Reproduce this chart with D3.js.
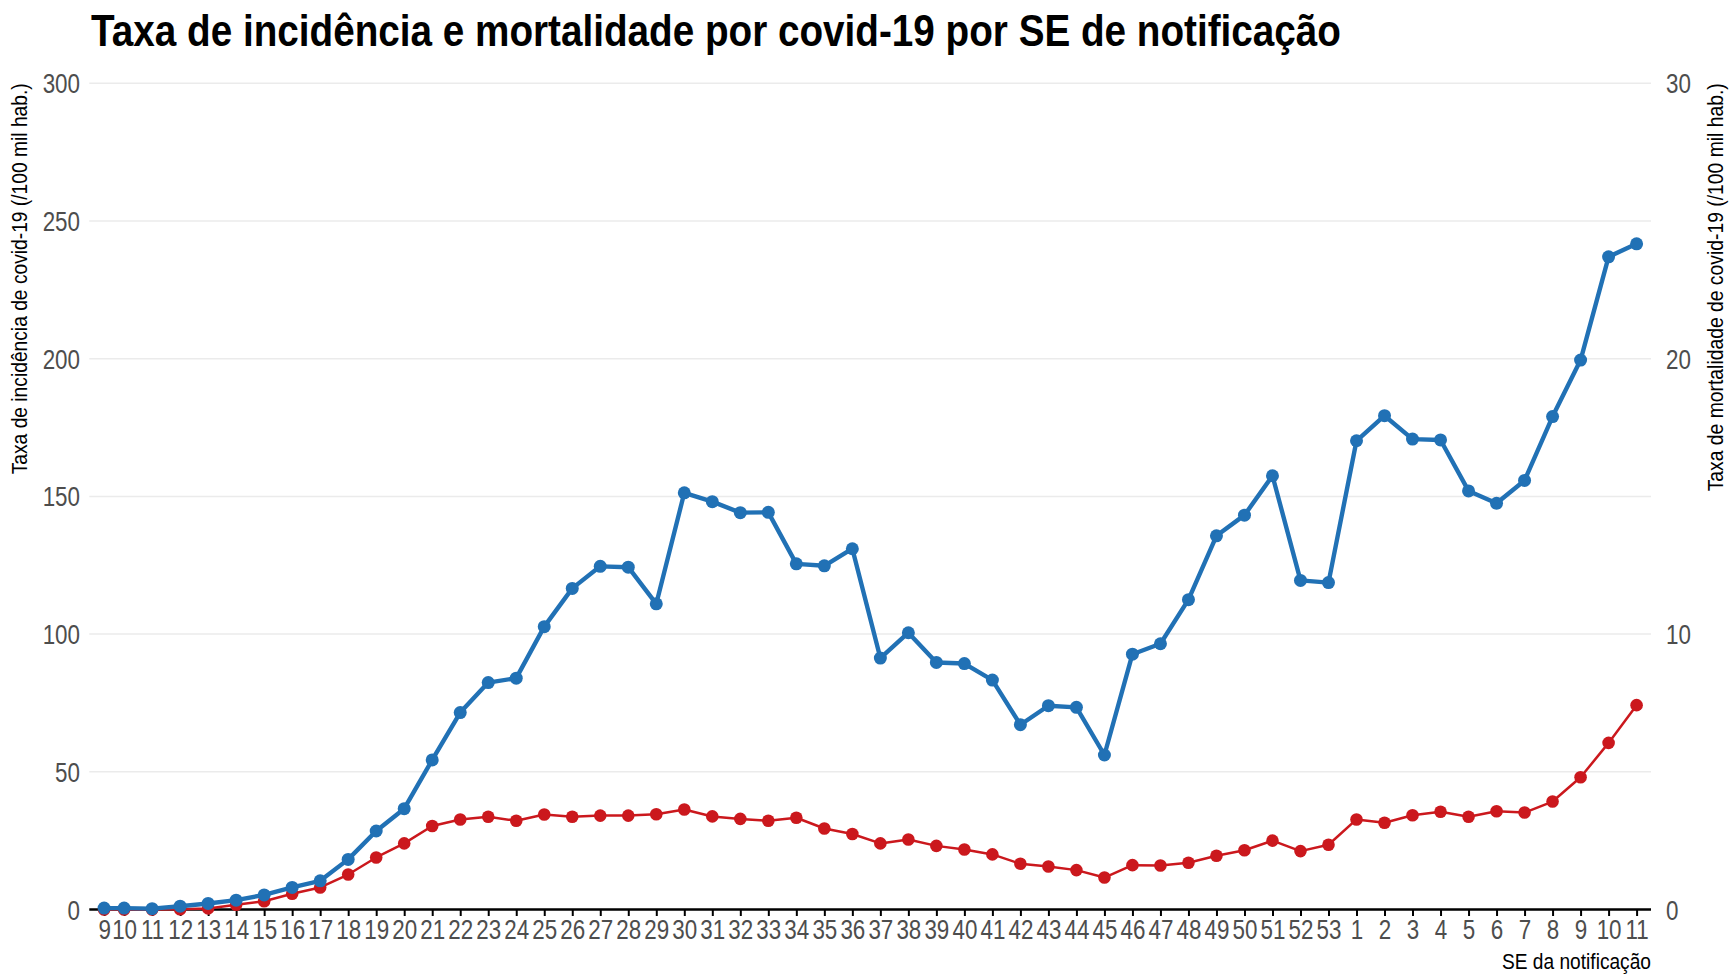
<!DOCTYPE html>
<html>
<head>
<meta charset="utf-8">
<script src="https://cdn.jsdelivr.net/npm/d3@7"></script>
<style>
  body { margin: 0; background: #fff; }
  svg { display: block; font-family: "Liberation Sans", Arial, sans-serif; }
</style>
</head>
<body>
<svg></svg>
<script>
// epidemiological weeks (2020 wk 9 -> 2021 wk 11)
const weeks = ['9','10','11','12','13','14','15','16','17','18','19','20','21','22','23','24','25','26','27','28','29','30','31','32','33','34','35','36','37','38','39','40','41','42','43','44','45','46','47','48','49','50','51','52','53','1','2','3','4','5','6','7','8','9','10','11'];

// incidence per 100k (left axis)
const incidence = [0.5,0.5,0.3,1.2,2.2,3.4,5.3,8.0,10.4,18.2,28.5,36.6,54.3,71.5,82.4,84.0,102.7,116.6,124.6,124.3,111.0,151.3,148.1,144.1,144.2,125.5,124.8,131.0,91.3,100.5,89.7,89.3,83.3,67.1,74.0,73.4,56.1,92.7,96.5,112.5,135.7,143.2,157.5,119.5,118.7,170.2,179.3,170.8,170.5,152.0,147.5,155.8,179.0,199.5,237.0,241.7];

// mortality per 100k (right axis)
const mortality = [0,0,0,0.01,0.04,0.17,0.3,0.57,0.8,1.27,1.89,2.4,3.03,3.27,3.37,3.22,3.45,3.37,3.41,3.41,3.46,3.63,3.38,3.29,3.22,3.33,2.94,2.74,2.4,2.54,2.31,2.18,2.0,1.66,1.56,1.43,1.16,1.61,1.6,1.7,1.95,2.15,2.5,2.12,2.35,3.27,3.15,3.42,3.55,3.37,3.57,3.52,3.92,4.8,6.05,7.42];

const leftTicks = [0,50,100,150,200,250,300];
const rightTicks = [0,10,20,30];

// week 9 starts at first notification, the rest are sundays
const weekStart = [new Date(2020,1,25)].concat(d3.timeSunday.range(new Date(2020,2,1), new Date(2021,2,15)));

const size = {w: 1729, h: 974};
const panel = {l: 89.3, r: 1651, t: 83.3, b: 909.5};
const blue = '#2171b5', red = '#cb181d';

const svg = d3.select('svg')
    .attr('width', size.w)
    .attr('height', size.h);

// no narrow font installed -> squeeze the glyphs
function squeeze(sel, k){
    sel.each(function(){
        const w = this.getComputedTextLength();
        d3.select(this).attr('textLength', w*k).attr('lengthAdjust', 'spacingAndGlyphs');
    });
}
function fitTo(sel, w){
    sel.attr('textLength', w).attr('lengthAdjust', 'spacingAndGlyphs');
}

const day = 864e5;
const x = d3.scaleTime()
    .domain([new Date(+weekStart[0] - 3.7*day), new Date(+weekStart[weekStart.length-1] + 3.6*day)])
    .range([panel.l, panel.r]);

const yL = d3.scaleLinear().domain([0,300]).range([panel.b, panel.t]);
const yR = d3.scaleLinear().domain([0,30]).range([panel.b, panel.t]);

//grid
svg.append('g').selectAll('line')
    .data(leftTicks)
    .join('line')
    .attr('x1', panel.l).attr('x2', panel.r)
    .attr('y1', d => yL(d)).attr('y2', d => yL(d))
    .attr('stroke', '#ebebeb')
    .attr('stroke-width', 1.5);

//left axis labels
svg.append('g').selectAll('text')
    .data(leftTicks)
    .join('text')
    .attr('x', 80)
    .attr('y', d => yL(d))
    .attr('dy', '0.36em')
    .attr('text-anchor', 'end')
    .attr('font-size', 28)
    .attr('fill', '#4d4d4d')
    .text(d => d)
    .call(squeeze, 0.8);

//right axis labels
svg.append('g').selectAll('text')
    .data(rightTicks)
    .join('text')
    .attr('x', 1666)
    .attr('y', d => yR(d))
    .attr('dy', '0.36em')
    .attr('font-size', 28)
    .attr('fill', '#4d4d4d')
    .text(d => d)
    .call(squeeze, 0.8);

//x axis
const xAxis = d3.axisBottom(x)
    .tickValues(weekStart)
    .tickFormat((d, i) => weeks[i])
    .tickSize(6.5)
    .tickPadding(3);

const gx = svg.append('g')
    .attr('transform', `translate(0,${panel.b})`)
    .call(xAxis);
gx.select('.domain').remove();
gx.selectAll('.tick line').attr('stroke', '#000').attr('stroke-width', 2);
gx.selectAll('.tick text')
    .attr('font-family', null)
    .attr('font-size', 28)
    .attr('fill', '#4d4d4d')
    .call(squeeze, 0.8);
gx.append('line')
    .attr('x1', panel.l).attr('x2', panel.r)
    .attr('stroke', '#000')
    .attr('stroke-width', 2.7);

//series
function drawSeries(values, scale, color, width, r){
    const pts = values.map((v, i) => [x(weekStart[i]), scale(v)]);
    svg.append('path')
        .attr('d', d3.line()(pts))
        .attr('fill', 'none')
        .attr('stroke', color)
        .attr('stroke-width', width)
        .attr('stroke-linejoin', 'round');
    svg.append('g').selectAll('circle')
        .data(pts)
        .join('circle')
        .attr('cx', d => d[0])
        .attr('cy', d => d[1])
        .attr('r', r)
        .attr('fill', color);
}
drawSeries(mortality, yR, red, 2.5, 6.3);
drawSeries(incidence, yL, blue, 4.4, 6.5);

//titles
svg.append('text')
    .attr('x', 91)
    .attr('y', 46)
    .attr('font-size', 45)
    .attr('font-weight', 'bold')
    .attr('fill', '#000')
    .text('Taxa de incidência e mortalidade por covid-19 por SE de notificação')
    .call(fitTo, 1250);

svg.append('text')
    .attr('transform', `translate(27,${panel.t}) rotate(-90)`)
    .attr('text-anchor', 'end')
    .attr('font-size', 22)
    .text('Taxa de incidência de covid-19 (/100 mil hab.)')
    .call(fitTo, 391);

svg.append('text')
    .attr('transform', `translate(1723,${panel.t}) rotate(-90)`)
    .attr('text-anchor', 'end')
    .attr('font-size', 22)
    .text('Taxa de mortalidade de covid-19 (/100 mil hab.)')
    .call(fitTo, 408);

svg.append('text')
    .attr('x', panel.r)
    .attr('y', 969)
    .attr('text-anchor', 'end')
    .attr('font-size', 22)
    .text('SE da notificação')
    .call(fitTo, 149);
</script>
</body>
</html>
